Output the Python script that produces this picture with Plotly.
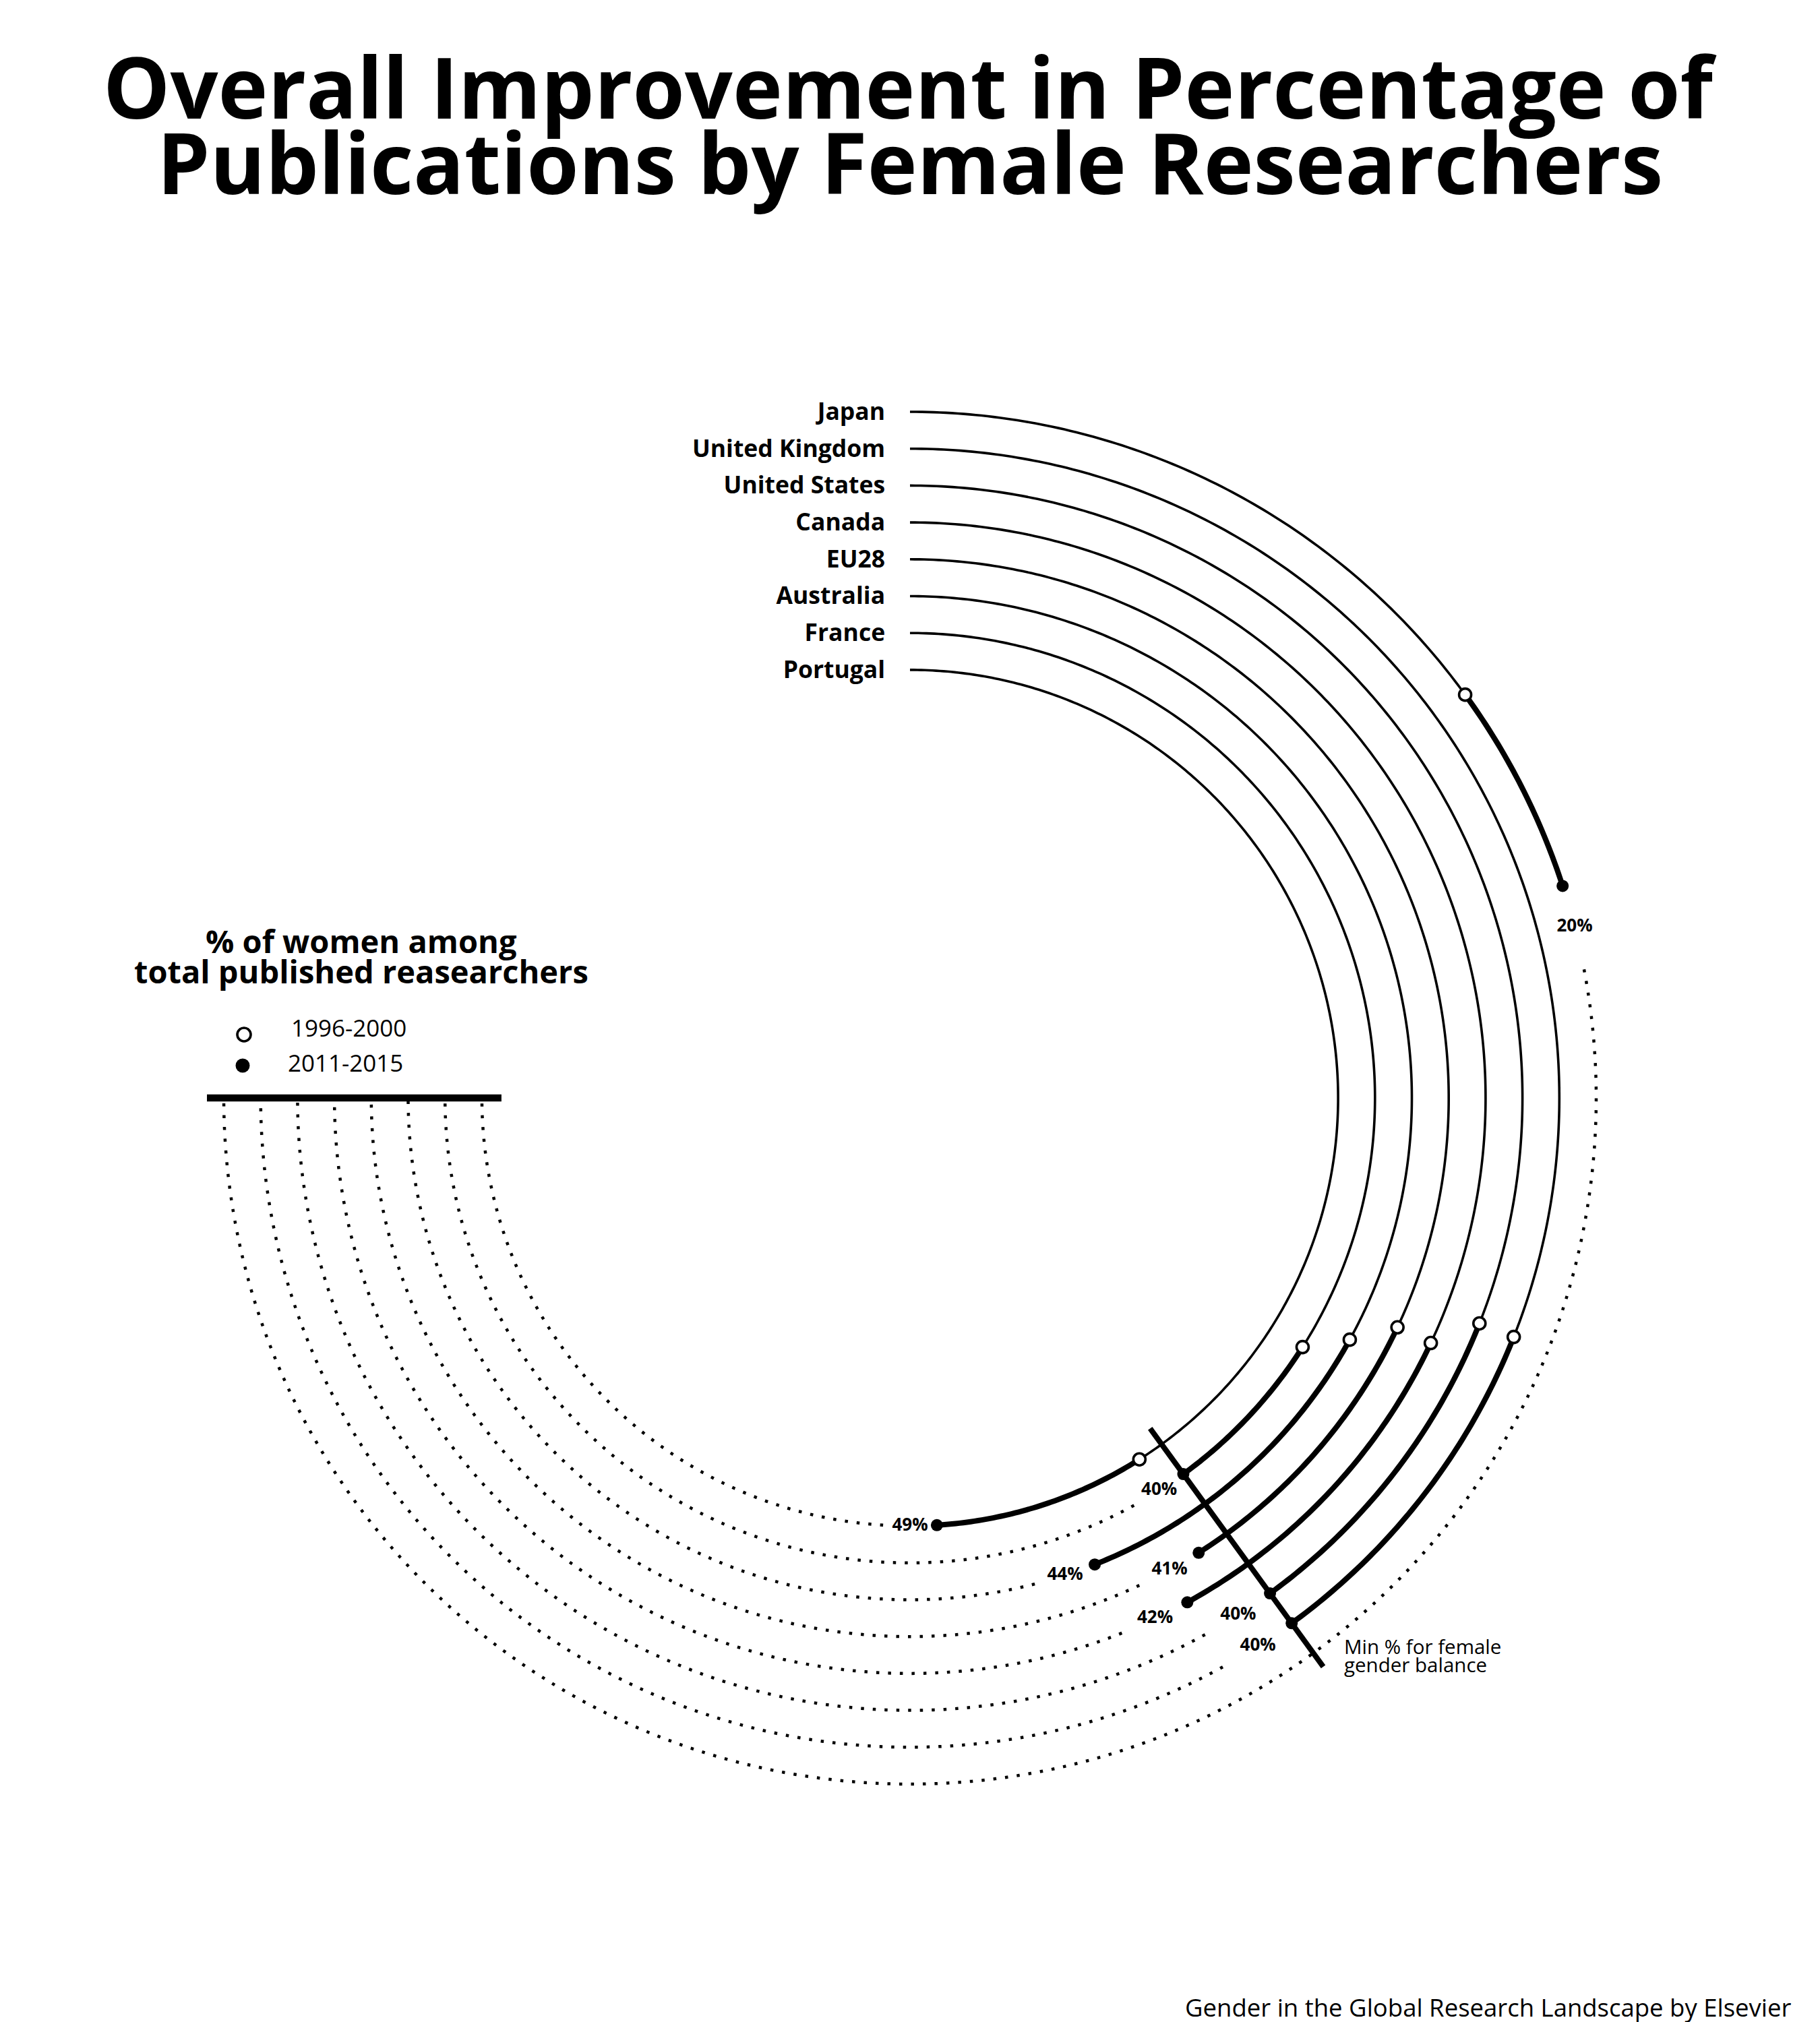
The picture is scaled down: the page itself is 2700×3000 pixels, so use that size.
import numpy as np
import plotly.graph_objects as go

# ---------------- data ----------------
countries = ["Japan", "United Kingdom", "United States", "Canada",
             "EU28", "Australia", "France", "Portugal"]
pct_1996_2000 = [15, 31, 31, 32, 32, 33, 34, 41]
pct_2011_2015 = [20, 40, 40, 42, 41, 44, 40, 49]
period_labels = ["1996-2000", "2011-2015"]
scale_end_pct = 75          # dotted track ends here (270 deg)
balance_pct = 40            # min % for female gender balance

# ---------------- layout constants ----------------
W, H = 2700, 3000
CX, CY = 1350, 1629          # centre of the rings in page pixels
R_OUTER = 1018               # radius of the outermost ring (px)
STEP = 54.7                  # spacing between rings (px)
RMAX = 1100                  # polar domain radius (px)
FONT = "Open Sans"
BLACK = "#000000"


def deg(p):
    return p * 3.6


def arc(p0, p1):
    n = max(2, int(abs(deg(p1) - deg(p0)) * 2) + 1)
    return np.linspace(deg(p0), deg(p1), n)


ring_r = [R_OUTER - STEP * i for i in range(len(countries))]
r_in = ring_r[-1] - 29
r_out = ring_r[0] + 25

fig = go.Figure()

# reference bars: min balance line and the scale end bar
fig.add_trace(go.Scatterpolar(
    r=[r_in, r_out], theta=[deg(balance_pct)] * 2, mode="lines",
    line=dict(color=BLACK, width=8), hoverinfo="skip", showlegend=False, cliponaxis=False))
fig.add_trace(go.Scatterpolar(
    r=[r_in, r_out], theta=[deg(scale_end_pct)] * 2, mode="lines",
    line=dict(color=BLACK, width=10.5), hoverinfo="skip", showlegend=False, cliponaxis=False))

for i, c in enumerate(countries):
    r = ring_r[i]
    a, b = pct_1996_2000[i], pct_2011_2015[i]
    t = arc(0, a)
    fig.add_trace(go.Scatterpolar(r=[r] * len(t), theta=t, mode="lines",
                                  line=dict(color=BLACK, width=3.6),
                                  hoverinfo="skip", showlegend=False, cliponaxis=False))
    t = arc(a, b)
    fig.add_trace(go.Scatterpolar(r=[r] * len(t), theta=t, mode="lines",
                                  line=dict(color=BLACK, width=8),
                                  hoverinfo="skip", showlegend=False, cliponaxis=False))
    t = arc(b + 2, scale_end_pct)
    fig.add_trace(go.Scatterpolar(r=[r] * len(t), theta=t, mode="lines",
                                  line=dict(color=BLACK, width=4.5, dash="4.5px,13px"),
                                  hoverinfo="skip", showlegend=False, cliponaxis=False))

# markers
fig.add_trace(go.Scatterpolar(
    r=ring_r, theta=[deg(v) for v in pct_1996_2000], mode="markers",
    marker=dict(size=18, color="white", line=dict(color=BLACK, width=3.6)),
    name=period_labels[0], showlegend=False, cliponaxis=False))
fig.add_trace(go.Scatterpolar(
    r=ring_r, theta=[deg(v) for v in pct_2011_2015], mode="markers",
    marker=dict(size=18, color=BLACK),
    name=period_labels[1], showlegend=False, cliponaxis=False))

# value labels (placed just past the 2011-2015 point)
fig.add_trace(go.Scatterpolar(
    r=ring_r, theta=[deg(v + 1) for v in pct_2011_2015], mode="text",
    text=[f"{v}%" for v in pct_2011_2015], textposition="middle center",
    textfont=dict(family=FONT, size=26, color=BLACK, weight="bold"),
    hoverinfo="skip", showlegend=False, cliponaxis=False))

# country labels at the start of each ring
fig.add_trace(go.Scatterpolar(
    r=[r - 3 for r in ring_r], theta=[0] * len(ring_r), mode="text",
    text=[c + "\u00a0\u00a0\u00a0\u00a0" for c in countries], textposition="middle left",
    textfont=dict(family=FONT, size=35.5, color=BLACK, weight="bold"),
    hoverinfo="skip", showlegend=False, cliponaxis=False))

dom_x = [(CX - RMAX) / W, (CX + RMAX) / W]
dom_y = [(H - CY - RMAX) / H, (H - CY + RMAX) / H]


def py(y):
    return 1 - y / H


annotations = [
    dict(text="Overall Improvement in Percentage of", x=0.5, y=py(127),
         font=dict(family=FONT, size=125, color=BLACK, weight="bold")),
    dict(text="Publications by Female Researchers", x=0.5, y=py(240),
         font=dict(family=FONT, size=125, color=BLACK, weight="bold")),
    dict(text="% of women among", x=536 / W, y=py(1396),
         font=dict(family=FONT, size=47, color=BLACK, weight="bold")),
    dict(text="total published reasearchers", x=536 / W, y=py(1441),
         font=dict(family=FONT, size=47, color=BLACK, weight="bold")),
    dict(text=period_labels[0], x=430 / W, y=py(1524), xanchor="left",
         font=dict(family=FONT, size=35, color=BLACK)),
    dict(text=period_labels[1], x=425 / W, y=py(1577), xanchor="left",
         font=dict(family=FONT, size=35, color=BLACK)),
    dict(text="Min % for female", x=1992 / W, y=py(2442), xanchor="left",
         font=dict(family=FONT, size=29.5, color=BLACK)),
    dict(text="gender balance", x=1992 / W, y=py(2469), xanchor="left",
         font=dict(family=FONT, size=29.5, color=BLACK)),
    dict(text="Gender in the Global Research Landscape by Elsevier", x=2660 / W, y=py(2978),
         xanchor="right", font=dict(family=FONT, size=36.5, color=BLACK)),
]
for a in annotations:
    a.setdefault("xanchor", "center")
    a.update(xref="paper", yref="paper", yanchor="middle", showarrow=False)

shapes = [
    dict(type="circle", xref="paper", yref="paper", xsizemode="pixel", ysizemode="pixel",
         xanchor=362 / W, yanchor=py(1535), x0=-10, x1=10, y0=-10, y1=10,
         line=dict(color=BLACK, width=3.6), fillcolor="white"),
    dict(type="circle", xref="paper", yref="paper", xsizemode="pixel", ysizemode="pixel",
         xanchor=360 / W, yanchor=py(1581), x0=-10.5, x1=10.5, y0=-10.5, y1=10.5,
         line=dict(color=BLACK, width=0), fillcolor=BLACK),
]

fig.update_layout(
    width=W, height=H, margin=dict(l=0, r=0, t=0, b=0),
    paper_bgcolor="white", plot_bgcolor="white",
    polar=dict(
        domain=dict(x=dom_x, y=dom_y), bgcolor="rgba(0,0,0,0)",
        radialaxis=dict(range=[0, RMAX], visible=False),
        angularaxis=dict(rotation=90, direction="clockwise", visible=False),
    ),
    annotations=annotations, shapes=shapes, showlegend=False,
)

fig.write_html("out.html")
